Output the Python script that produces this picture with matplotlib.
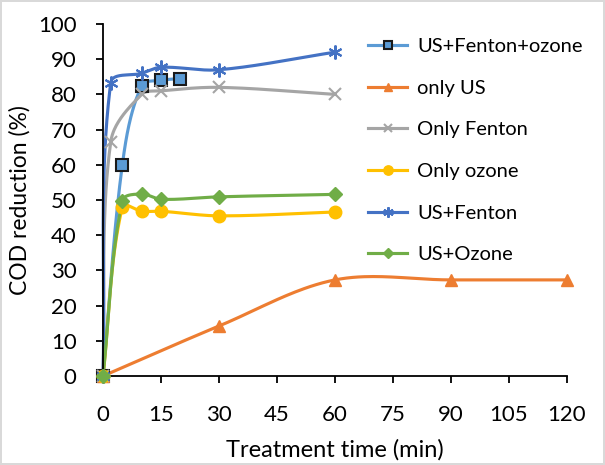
import numpy as np
import matplotlib
matplotlib.use("Agg")
import matplotlib.pyplot as plt
from matplotlib.lines import Line2D

plt.rcParams['font.family'] = ['Lato', 'DejaVu Sans']

# Data
x_usfo = [0, 5, 10, 15, 20]
y_usfo = [0, 60, 82.5, 84, 84.5]
x_us = [0, 30, 60, 90, 120]
y_us = [0, 14.2, 27.3, 27.3, 27.3]
x_fen = [0, 2, 10, 15, 30, 60]
y_fen = [0, 66.5, 80, 81, 82, 80]
x_oz = [0, 5, 10, 15, 30, 60]
y_oz = [0, 48, 46.8, 46.8, 45.5, 46.6]
x_usf = [0, 2, 10, 15, 30, 60]
y_usf = [0, 83.3, 86, 87.7, 87, 92]
x_uso = [0, 5, 10, 15, 30, 60]
y_uso = [0, 49.8, 51.7, 50.2, 50.9, 51.6]

labels = ["US+Fenton+ozone", "only US", "Only Fenton", "Only ozone", "US+Fenton", "US+Ozone"]
xticks = [0, 15, 30, 45, 60, 75, 90, 105, 120]
yticks = list(range(0, 101, 10))

XS = 464 / 120.0
YS = 352 / 100.0


def smooth(xs, ys, n=40, k=1 / 3.0):
    P = np.column_stack([np.asarray(xs, float) * XS, np.asarray(ys, float) * YS])
    m = len(P)
    T = []
    for i in range(m):
        a = P[i - 1] if i > 0 else P[i]
        b = P[i + 1] if i + 1 < m else P[i]
        d = b - a
        nrm = np.hypot(*d)
        T.append(d / nrm if nrm > 0 else d)
    out = []
    for i in range(m - 1):
        p1, p2 = P[i], P[i + 1]
        L = np.hypot(*(p2 - p1))
        c1 = p1 + T[i] * L * k
        c2 = p2 - T[i + 1] * L * k
        s = np.linspace(0, 1, n)[:, None]
        b = (1 - s) ** 3 * p1 + 3 * (1 - s) ** 2 * s * c1 + 3 * (1 - s) * s ** 2 * c2 + s ** 3 * p2
        out.append(b if i == 0 else b[1:])
    B = np.vstack(out)
    return B[:, 0] / XS, B[:, 1] / YS


fig = plt.figure(figsize=(6.05, 4.65), dpi=100)
fig.patch.set_edgecolor('#D9D9D9')
fig.patch.set_linewidth(1.5)
ax = fig.add_axes([103 / 605, 1 - 376 / 465, (567 - 103) / 605, (376 - 24) / 465])

series = [
    (x_usfo, y_usfo, '#5B9BD5', dict(marker='s', ms=8, mfc='#5B9BD5', mec='#1a1a1a', mew=1.5)),
    (x_us, y_us, '#ED7D31', dict(marker='^', ms=8, mfc='#ED7D31', mec='#ED7D31')),
    (x_fen, y_fen, '#A5A5A5', dict(marker='x', ms=8, mfc='#A5A5A5', mec='#A5A5A5', mew=1.5)),
    (x_oz, y_oz, '#FFC000', dict(marker='o', ms=9, mfc='#FFC000', mec='#FFC000')),
    (x_usf, y_usf, '#4472C4', dict(marker=(6, 2, 0), ms=10, mfc='#4472C4', mec='#4472C4', mew=1.5)),
    (x_uso, y_uso, '#70AD47', dict(marker='D', ms=7, mfc='#70AD47', mec='#70AD47')),
]

handles = []
for (xs, ys, c, mk), lab in zip(series, labels):
    sx, sy = smooth(xs, ys)
    ax.plot(sx, sy, color=c, lw=2.25, clip_on=False, zorder=2)
    ax.plot(xs, ys, ls='none', clip_on=False, zorder=3, **mk)
    hk = dict(mk)
    hk['ms'] = hk['ms'] * 0.75
    handles.append(Line2D([0], [0], color=c, lw=2.25, label=lab, **hk))

ax.set_xlim(0, 120)
ax.set_ylim(0, 100)
ax.set_xticks(xticks)
ax.set_yticks(yticks)
for s in ['top', 'right']:
    ax.spines[s].set_visible(False)
for s in ['left', 'bottom']:
    ax.spines[s].set_linewidth(1.3)
    ax.spines[s].set_color('black')
ax.tick_params(axis='both', direction='out', length=5, width=1.3, labelsize=16, colors='black')
ax.tick_params(axis='x', pad=16)
ax.tick_params(axis='y', pad=14)
ax.set_xlabel('Treatment time (min)', fontsize=17, labelpad=10)
ax.set_ylabel('COD reduction (%)', fontsize=16.5, labelpad=5)

leg = ax.legend(handles=handles, loc='upper left', bbox_to_anchor=(0.545, 0.995), frameon=False,
                fontsize=14.5, handlelength=1.95, handletextpad=0.5, labelspacing=1.22,
                borderaxespad=0.2)

fig.savefig('out.png', dpi=100)
